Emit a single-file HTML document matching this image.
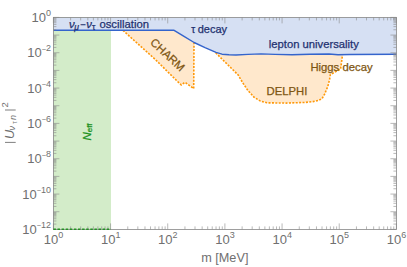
<!DOCTYPE html>
<html><head><meta charset="utf-8"><style>
html,body{margin:0;padding:0;background:#fff;}
body{width:407px;height:267px;overflow:hidden;}
svg{display:block;font-family:"Liberation Sans",sans-serif;}
.b{stroke:#1f3170;stroke-width:0.25px;}.o{stroke:#7e5612;stroke-width:0.25px;}.g{stroke:#1a901a;stroke-width:0.25px;}
</style></head><body>
<svg width="407" height="267" viewBox="0 0 407 267">
<rect width="407" height="267" fill="#fff"/>
<rect x="53.4" y="17.4" width="57.60" height="212.0" fill="#d3ecc9"/>
<path d="M123.0 30.4 L155.3 59.5 L179.2 83.1 L181.3 84.9 L185.0 82.3 L193.7 88.6 L194.0 42.4 L193.9 25 L123 25 Z" fill="#ffe8cc"/>
<path d="M215.7 52.8 L238.2 75.0 L242.7 82.7 L247.8 90.3 L254.1 97.3 L260.5 101.1 L266.9 102.8 L286.0 103.1 L305.5 102.4 L313.0 101.6 L318.3 100.5 L322.1 98.6 L324.6 94.1 L327.8 86.5 L329.7 78.8 L330.4 74.5 L340.6 69.1 L342.5 55.0 L342.5 50 L215.7 50 Z" fill="#ffe8cc"/>
<path d="M53.4 30.3 L173.7 30.2 L184.0 36.4 L194.1 42.5 L205.0 47.6 L216.0 52.3 L222.0 54.2 L229.0 54.8 L236.0 55.0 L248.0 54.4 L261.0 53.9 L275.0 54.4 L292.0 54.7 L310.0 54.3 L329.0 54.0 L338.0 54.7 L350.0 54.5 L396.4 54.3 L396.4 17.4 L53.4 17.4 Z" fill="#d6e0f3"/>
<path d="M123.0 30.4 L155.3 59.5 L179.2 83.1 L181.3 84.9 L185.0 82.3 L193.7 88.6 L194.0 42.4" fill="none" stroke="#ff9808" stroke-width="1.6" stroke-dasharray="2.0 1.4"/>
<path d="M215.7 52.8 L238.2 75.0 L242.7 82.7 L247.8 90.3 L254.1 97.3 L260.5 101.1 L266.9 102.8 L286.0 103.1 L305.5 102.4 L313.0 101.6 L318.3 100.5 L322.1 98.6 L324.6 94.1 L327.8 86.5 L329.7 78.8 L330.4 74.5 L340.6 69.1 L342.5 55.0" fill="none" stroke="#ff9808" stroke-width="1.6" stroke-dasharray="2.0 1.4"/>
<path d="M53.4 30.3 L173.7 30.2 L184.0 36.4 L194.1 42.5 L205.0 47.6 L216.0 52.3 L222.0 54.2 L229.0 54.8 L236.0 55.0 L248.0 54.4 L261.0 53.9 L275.0 54.4 L292.0 54.7 L310.0 54.3 L329.0 54.0 L338.0 54.7 L350.0 54.5 L396.4 54.3" fill="none" stroke="#3464cc" stroke-width="1.4" stroke-linejoin="round"/>
<path d="M53.40 229.4 v-6.0 M53.40 17.4 v6.0 M70.61 229.4 v-3.0 M70.61 17.4 v3.0 M80.68 229.4 v-3.0 M80.68 17.4 v3.0 M87.82 229.4 v-3.0 M87.82 17.4 v3.0 M93.36 229.4 v-3.0 M93.36 17.4 v3.0 M97.88 229.4 v-3.0 M97.88 17.4 v3.0 M101.71 229.4 v-3.0 M101.71 17.4 v3.0 M105.03 229.4 v-3.0 M105.03 17.4 v3.0 M107.95 229.4 v-3.0 M107.95 17.4 v3.0 M110.57 229.4 v-6.0 M110.57 17.4 v6.0 M127.78 229.4 v-3.0 M127.78 17.4 v3.0 M137.84 229.4 v-3.0 M137.84 17.4 v3.0 M144.98 229.4 v-3.0 M144.98 17.4 v3.0 M150.52 229.4 v-3.0 M150.52 17.4 v3.0 M155.05 229.4 v-3.0 M155.05 17.4 v3.0 M158.88 229.4 v-3.0 M158.88 17.4 v3.0 M162.19 229.4 v-3.0 M162.19 17.4 v3.0 M165.12 229.4 v-3.0 M165.12 17.4 v3.0 M167.73 229.4 v-6.0 M167.73 17.4 v6.0 M184.94 229.4 v-3.0 M184.94 17.4 v3.0 M195.01 229.4 v-3.0 M195.01 17.4 v3.0 M202.15 229.4 v-3.0 M202.15 17.4 v3.0 M207.69 229.4 v-3.0 M207.69 17.4 v3.0 M212.22 229.4 v-3.0 M212.22 17.4 v3.0 M216.04 229.4 v-3.0 M216.04 17.4 v3.0 M219.36 229.4 v-3.0 M219.36 17.4 v3.0 M222.28 229.4 v-3.0 M222.28 17.4 v3.0 M224.90 229.4 v-6.0 M224.90 17.4 v6.0 M242.11 229.4 v-3.0 M242.11 17.4 v3.0 M252.18 229.4 v-3.0 M252.18 17.4 v3.0 M259.32 229.4 v-3.0 M259.32 17.4 v3.0 M264.86 229.4 v-3.0 M264.86 17.4 v3.0 M269.38 229.4 v-3.0 M269.38 17.4 v3.0 M273.21 229.4 v-3.0 M273.21 17.4 v3.0 M276.53 229.4 v-3.0 M276.53 17.4 v3.0 M279.45 229.4 v-3.0 M279.45 17.4 v3.0 M282.07 229.4 v-6.0 M282.07 17.4 v6.0 M299.28 229.4 v-3.0 M299.28 17.4 v3.0 M309.34 229.4 v-3.0 M309.34 17.4 v3.0 M316.48 229.4 v-3.0 M316.48 17.4 v3.0 M322.02 229.4 v-3.0 M322.02 17.4 v3.0 M326.55 229.4 v-3.0 M326.55 17.4 v3.0 M330.38 229.4 v-3.0 M330.38 17.4 v3.0 M333.69 229.4 v-3.0 M333.69 17.4 v3.0 M336.62 229.4 v-3.0 M336.62 17.4 v3.0 M339.23 229.4 v-6.0 M339.23 17.4 v6.0 M356.44 229.4 v-3.0 M356.44 17.4 v3.0 M366.51 229.4 v-3.0 M366.51 17.4 v3.0 M373.65 229.4 v-3.0 M373.65 17.4 v3.0 M379.19 229.4 v-3.0 M379.19 17.4 v3.0 M383.72 229.4 v-3.0 M383.72 17.4 v3.0 M387.54 229.4 v-3.0 M387.54 17.4 v3.0 M390.86 229.4 v-3.0 M390.86 17.4 v3.0 M393.78 229.4 v-3.0 M393.78 17.4 v3.0 M396.40 229.4 v-6.0 M396.40 17.4 v6.0 M53.4 17.40 h6.0 M396.4 17.40 h-6.0 M53.4 29.75 h3.0 M396.4 29.75 h-3.0 M53.4 26.64 h3.0 M396.4 26.64 h-3.0 M53.4 24.43 h3.0 M396.4 24.43 h-3.0 M53.4 22.72 h3.0 M396.4 22.72 h-3.0 M53.4 21.32 h3.0 M396.4 21.32 h-3.0 M53.4 20.14 h3.0 M396.4 20.14 h-3.0 M53.4 19.11 h3.0 M396.4 19.11 h-3.0 M53.4 18.21 h3.0 M396.4 18.21 h-3.0 M53.4 35.07 h6.0 M396.4 35.07 h-6.0 M53.4 47.42 h3.0 M396.4 47.42 h-3.0 M53.4 44.30 h3.0 M396.4 44.30 h-3.0 M53.4 42.10 h3.0 M396.4 42.10 h-3.0 M53.4 40.38 h3.0 M396.4 40.38 h-3.0 M53.4 38.99 h3.0 M396.4 38.99 h-3.0 M53.4 37.80 h3.0 M396.4 37.80 h-3.0 M53.4 36.78 h3.0 M396.4 36.78 h-3.0 M53.4 35.88 h3.0 M396.4 35.88 h-3.0 M53.4 52.73 h6.0 M396.4 52.73 h-6.0 M53.4 65.08 h3.0 M396.4 65.08 h-3.0 M53.4 61.97 h3.0 M396.4 61.97 h-3.0 M53.4 59.76 h3.0 M396.4 59.76 h-3.0 M53.4 58.05 h3.0 M396.4 58.05 h-3.0 M53.4 56.65 h3.0 M396.4 56.65 h-3.0 M53.4 55.47 h3.0 M396.4 55.47 h-3.0 M53.4 54.45 h3.0 M396.4 54.45 h-3.0 M53.4 53.54 h3.0 M396.4 53.54 h-3.0 M53.4 70.40 h6.0 M396.4 70.40 h-6.0 M53.4 82.75 h3.0 M396.4 82.75 h-3.0 M53.4 79.64 h3.0 M396.4 79.64 h-3.0 M53.4 77.43 h3.0 M396.4 77.43 h-3.0 M53.4 75.72 h3.0 M396.4 75.72 h-3.0 M53.4 74.32 h3.0 M396.4 74.32 h-3.0 M53.4 73.14 h3.0 M396.4 73.14 h-3.0 M53.4 72.11 h3.0 M396.4 72.11 h-3.0 M53.4 71.21 h3.0 M396.4 71.21 h-3.0 M53.4 88.07 h6.0 M396.4 88.07 h-6.0 M53.4 100.42 h3.0 M396.4 100.42 h-3.0 M53.4 97.30 h3.0 M396.4 97.30 h-3.0 M53.4 95.10 h3.0 M396.4 95.10 h-3.0 M53.4 93.38 h3.0 M396.4 93.38 h-3.0 M53.4 91.99 h3.0 M396.4 91.99 h-3.0 M53.4 90.80 h3.0 M396.4 90.80 h-3.0 M53.4 89.78 h3.0 M396.4 89.78 h-3.0 M53.4 88.88 h3.0 M396.4 88.88 h-3.0 M53.4 105.73 h6.0 M396.4 105.73 h-6.0 M53.4 118.08 h3.0 M396.4 118.08 h-3.0 M53.4 114.97 h3.0 M396.4 114.97 h-3.0 M53.4 112.76 h3.0 M396.4 112.76 h-3.0 M53.4 111.05 h3.0 M396.4 111.05 h-3.0 M53.4 109.65 h3.0 M396.4 109.65 h-3.0 M53.4 108.47 h3.0 M396.4 108.47 h-3.0 M53.4 107.45 h3.0 M396.4 107.45 h-3.0 M53.4 106.54 h3.0 M396.4 106.54 h-3.0 M53.4 123.40 h6.0 M396.4 123.40 h-6.0 M53.4 135.75 h3.0 M396.4 135.75 h-3.0 M53.4 132.64 h3.0 M396.4 132.64 h-3.0 M53.4 130.43 h3.0 M396.4 130.43 h-3.0 M53.4 128.72 h3.0 M396.4 128.72 h-3.0 M53.4 127.32 h3.0 M396.4 127.32 h-3.0 M53.4 126.14 h3.0 M396.4 126.14 h-3.0 M53.4 125.11 h3.0 M396.4 125.11 h-3.0 M53.4 124.21 h3.0 M396.4 124.21 h-3.0 M53.4 141.07 h6.0 M396.4 141.07 h-6.0 M53.4 153.42 h3.0 M396.4 153.42 h-3.0 M53.4 150.30 h3.0 M396.4 150.30 h-3.0 M53.4 148.10 h3.0 M396.4 148.10 h-3.0 M53.4 146.38 h3.0 M396.4 146.38 h-3.0 M53.4 144.99 h3.0 M396.4 144.99 h-3.0 M53.4 143.80 h3.0 M396.4 143.80 h-3.0 M53.4 142.78 h3.0 M396.4 142.78 h-3.0 M53.4 141.88 h3.0 M396.4 141.88 h-3.0 M53.4 158.73 h6.0 M396.4 158.73 h-6.0 M53.4 171.08 h3.0 M396.4 171.08 h-3.0 M53.4 167.97 h3.0 M396.4 167.97 h-3.0 M53.4 165.76 h3.0 M396.4 165.76 h-3.0 M53.4 164.05 h3.0 M396.4 164.05 h-3.0 M53.4 162.65 h3.0 M396.4 162.65 h-3.0 M53.4 161.47 h3.0 M396.4 161.47 h-3.0 M53.4 160.45 h3.0 M396.4 160.45 h-3.0 M53.4 159.54 h3.0 M396.4 159.54 h-3.0 M53.4 176.40 h6.0 M396.4 176.40 h-6.0 M53.4 188.75 h3.0 M396.4 188.75 h-3.0 M53.4 185.64 h3.0 M396.4 185.64 h-3.0 M53.4 183.43 h3.0 M396.4 183.43 h-3.0 M53.4 181.72 h3.0 M396.4 181.72 h-3.0 M53.4 180.32 h3.0 M396.4 180.32 h-3.0 M53.4 179.14 h3.0 M396.4 179.14 h-3.0 M53.4 178.11 h3.0 M396.4 178.11 h-3.0 M53.4 177.21 h3.0 M396.4 177.21 h-3.0 M53.4 194.07 h6.0 M396.4 194.07 h-6.0 M53.4 206.42 h3.0 M396.4 206.42 h-3.0 M53.4 203.30 h3.0 M396.4 203.30 h-3.0 M53.4 201.10 h3.0 M396.4 201.10 h-3.0 M53.4 199.38 h3.0 M396.4 199.38 h-3.0 M53.4 197.99 h3.0 M396.4 197.99 h-3.0 M53.4 196.80 h3.0 M396.4 196.80 h-3.0 M53.4 195.78 h3.0 M396.4 195.78 h-3.0 M53.4 194.88 h3.0 M396.4 194.88 h-3.0 M53.4 211.73 h6.0 M396.4 211.73 h-6.0 M53.4 224.08 h3.0 M396.4 224.08 h-3.0 M53.4 220.97 h3.0 M396.4 220.97 h-3.0 M53.4 218.76 h3.0 M396.4 218.76 h-3.0 M53.4 217.05 h3.0 M396.4 217.05 h-3.0 M53.4 215.65 h3.0 M396.4 215.65 h-3.0 M53.4 214.47 h3.0 M396.4 214.47 h-3.0 M53.4 213.45 h3.0 M396.4 213.45 h-3.0 M53.4 212.54 h3.0 M396.4 212.54 h-3.0 M53.4 229.40 h6.0 M396.4 229.40 h-6.0" stroke="#8a8a8a" stroke-width="0.6" fill="none"/>
<rect x="53.4" y="17.4" width="343.0" height="212.0" fill="none" stroke="#868686" stroke-width="0.8"/>
<path d="M53.4 229.20000000000002 H111" fill="none" stroke="#259025" stroke-width="1.5" stroke-dasharray="2.5 1.6"/>
<text x="53.5" y="243.6" text-anchor="middle" font-size="13" fill="#707070">10<tspan font-size="9" dy="-6.0">0</tspan></text>
<text x="110.66666666666666" y="243.6" text-anchor="middle" font-size="13" fill="#707070">10<tspan font-size="9" dy="-6.0">1</tspan></text>
<text x="167.83333333333331" y="243.6" text-anchor="middle" font-size="13" fill="#707070">10<tspan font-size="9" dy="-6.0">2</tspan></text>
<text x="225.0" y="243.6" text-anchor="middle" font-size="13" fill="#707070">10<tspan font-size="9" dy="-6.0">3</tspan></text>
<text x="282.1666666666667" y="243.6" text-anchor="middle" font-size="13" fill="#707070">10<tspan font-size="9" dy="-6.0">4</tspan></text>
<text x="339.3333333333333" y="243.6" text-anchor="middle" font-size="13" fill="#707070">10<tspan font-size="9" dy="-6.0">5</tspan></text>
<text x="396.5" y="243.6" text-anchor="middle" font-size="13" fill="#707070">10<tspan font-size="9" dy="-6.0">6</tspan></text>
<text x="51.1" y="22.099999999999998" text-anchor="end" font-size="13" fill="#707070">10<tspan font-size="9" dy="-6.0">0</tspan></text>
<text x="51.1" y="57.43333333333334" text-anchor="end" font-size="13" fill="#707070">10<tspan font-size="7.5" dy="-5.9">−</tspan><tspan font-size="9" dy="-0.1">2</tspan></text>
<text x="51.1" y="92.76666666666667" text-anchor="end" font-size="13" fill="#707070">10<tspan font-size="7.5" dy="-5.9">−</tspan><tspan font-size="9" dy="-0.1">4</tspan></text>
<text x="51.1" y="128.1" text-anchor="end" font-size="13" fill="#707070">10<tspan font-size="7.5" dy="-5.9">−</tspan><tspan font-size="9" dy="-0.1">6</tspan></text>
<text x="51.1" y="163.43333333333334" text-anchor="end" font-size="13" fill="#707070">10<tspan font-size="7.5" dy="-5.9">−</tspan><tspan font-size="9" dy="-0.1">8</tspan></text>
<text x="51.1" y="198.76666666666665" text-anchor="end" font-size="13" fill="#707070">10<tspan font-size="7.5" dy="-5.9">−</tspan><tspan font-size="9" dy="-0.1">10</tspan></text>
<text x="51.1" y="234.1" text-anchor="end" font-size="13" fill="#707070">10<tspan font-size="7.5" dy="-5.9">−</tspan><tspan font-size="9" dy="-0.1">12</tspan></text>
<text x="224.8" y="262.3" text-anchor="middle" font-size="12.7" fill="#707070">m [MeV]</text>
<g fill="#707070">
<path d="M5.0 142.4 H15.7 M5.0 110.0 H15.7" stroke="#707070" stroke-width="0.9" fill="none"/>
<text transform="translate(13.5,139.0) rotate(-90)" font-size="12.7" font-style="italic">U</text>
<text transform="translate(15.3,130.4) rotate(-90)" font-size="9" font-style="italic">ν</text>
<text transform="translate(16.6,123.7) rotate(-90)" font-size="6.5">τ</text>
<text transform="translate(15.5,120.1) rotate(-90)" font-size="9" font-style="italic">n</text>
<text transform="translate(7.7,107.4) rotate(-90)" font-size="9.5">2</text>
</g>
<text y="27.6" font-size="11.3" fill="#1f3170" class="b"><tspan x="68.9" font-style="italic">ν</tspan><tspan x="74.3" font-style="italic" font-size="8.6" dy="2.5">μ</tspan><tspan x="80.3" dy="-2.5" font-size="9.5">−</tspan><tspan x="86.3" font-style="italic">ν</tspan><tspan x="92.0" font-size="8.6" dy="2.5">τ</tspan><tspan x="99.4" dy="-2.5">oscillation</tspan></text>
<text x="191.2" y="32.6" font-size="11" fill="#1f3170" class="b"><tspan font-size="10">τ</tspan><tspan x="197.7">decay</tspan></text>
<text x="268.8" y="48.3" font-size="11.25" fill="#1f3170" class="b">lepton universality</text>
<text x="310.4" y="70.6" font-size="11.3" fill="#7e5612" class="o">Higgs decay</text>
<text x="266.6" y="94.8" font-size="11.3" fill="#7e5612" class="o">DELPHI</text>
<text transform="translate(149.5,43.3) rotate(43)" font-size="11.5" fill="#7e5612" class="o">CHARM</text>
<text transform="translate(90.7,140.6) rotate(-90)" font-size="11.5" fill="#1a901a" class="g"><tspan font-style="italic">N</tspan><tspan font-size="8" dy="0.9">eff</tspan></text>
</svg>
</body></html>
